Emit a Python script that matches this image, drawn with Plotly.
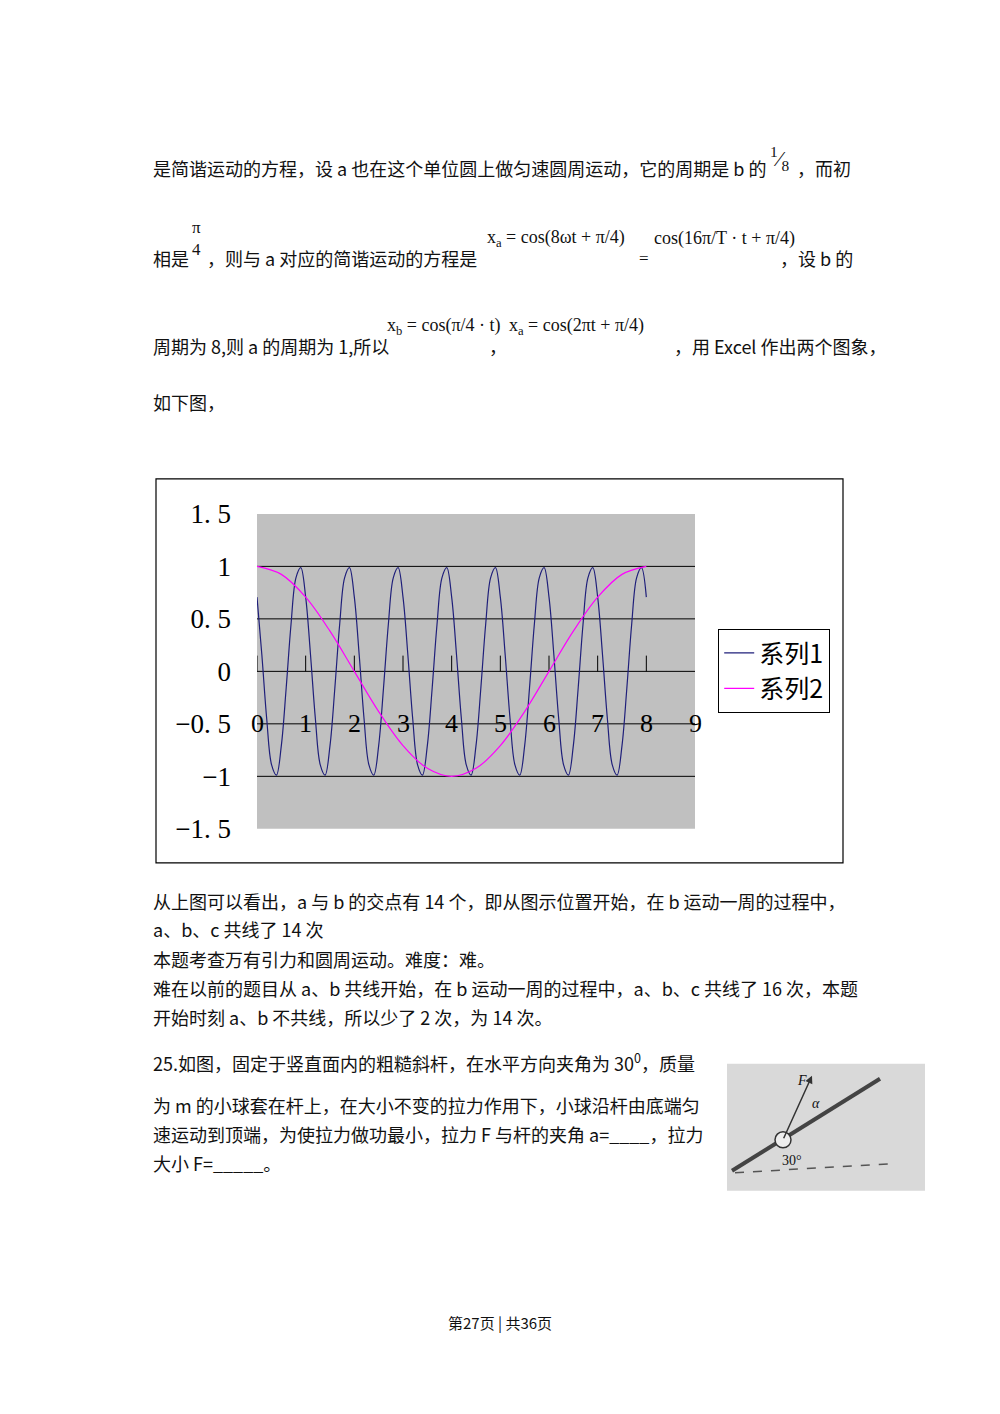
import plotly.graph_objects as go

t1 = [round(i*0.1, 1) for i in range(81)]
s1 = [0.707,0.156,-0.454,-0.891,-0.988,-0.707,-0.156,0.454,0.891,0.988,
      0.707,0.156,-0.454,-0.891,-0.988,-0.707,-0.156,0.454,0.891,0.988,
      0.707,0.156,-0.454,-0.891,-0.988,-0.707,-0.156,0.454,0.891,0.988,
      0.707,0.156,-0.454,-0.891,-0.988,-0.707,-0.156,0.454,0.891,0.988,
      0.707,0.156,-0.454,-0.891,-0.988,-0.707,-0.156,0.454,0.891,0.988,
      0.707,0.156,-0.454,-0.891,-0.988,-0.707,-0.156,0.454,0.891,0.988,
      0.707,0.156,-0.454,-0.891,-0.988,-0.707,-0.156,0.454,0.891,0.988,
      0.707,0.156,-0.454,-0.891,-0.988,-0.707,-0.156,0.454,0.891,0.988,
      0.707]
t2 = [0,0.5,1,1.5,2,2.5,3,3.5,4,4.5,5,5.5,6,6.5,7,7.5,8]
s2 = [1,0.924,0.707,0.383,0,-0.383,-0.707,-0.924,-1,-0.924,-0.707,-0.383,0,0.383,0.707,0.924,1]
x_labels = ["0","1","2","3","4","5","6","7","8","9"]
y_ticks = [-1.5,-1,-0.5,0,0.5,1,1.5]
y_text = ["−1. 5","−1","−0. 5","0","0. 5","1","1. 5"]
grid_vals = [-1,-0.5,0,0.5,1]

A, B = 0.979, 22.0
def py(p): return 1 - ((p - B) / A) / 1414
def px(p): return (p - 8) / 1000

fig = go.Figure()
fig.add_trace(go.Scatter(x=t1, y=s1, mode="lines", name="系列1", line=dict(color="#1f1f7a", width=1.2, shape="spline")))
fig.add_trace(go.Scatter(x=t2, y=s2, mode="lines", name="系列2", line=dict(color="#ff00ff", width=1.2, shape="spline")))

serif = "Liberation Serif, DejaVu Serif, serif"
cjk = "Noto Sans CJK SC"
shapes = [dict(type="rect", xref="paper", yref="paper", x0=px(156), x1=px(843), y0=py(862), y1=py(478), line=dict(color="black", width=1.2)),
          dict(type="rect", xref="x domain", yref="y domain", x0=0, x1=1, y0=0, y1=1, fillcolor="#c0c0c0", line=dict(width=0), layer="below")]
for g in grid_vals:
    shapes.append(dict(type="line", xref="x domain", yref="y", x0=0, x1=1, y0=g, y1=g, line=dict(color="black", width=1), layer="below"))
for i in range(9):
    shapes.append(dict(type="line", xref="x", yref="y", x0=i, x1=i, y0=0, y1=0.15, line=dict(color="black", width=1), layer="below"))

ann = []
for i, l in enumerate(x_labels):
    ann.append(dict(x=i, y=-0.5, xref="x", yref="y", text=l, showarrow=False, font=dict(family=serif, size=26, color="black")))

def T(x, y, s, size=18, anchor="left", fam=cjk):
    ann.append(dict(x=px(x), y=py(y), xref="paper", yref="paper", text=s, showarrow=False, xanchor=anchor, yanchor="middle", font=dict(family=fam, size=size, color="#111")))

T(151,167,"是简谐运动的方程，设 a 也在这个单位圆上做匀速圆周运动，它的周期是 b 的")
T(768,158,"<sup>1</sup>⁄<sub>8</sub>",size=22,fam=serif)
T(795,167,"，而初")
T(151,257,"相是"); T(190,238,"π<br>4",size=17,fam=serif); T(205,257,"，则与 a 对应的简谐运动的方程是")
T(485,238,"x<sub>a</sub> = cos(8ωt + π/4)",size=18,fam=serif)
T(637,258,"=",size=17,fam=serif)
T(652,238,"cos(16π/T · t + π/4)",size=18,fam=serif)
T(778,257,"，设 b 的")
T(151,345,"周期为 8,则 a 的周期为 1,所以")
T(385,326,"x<sub>b</sub> = cos(π/4 · t)",size=18,fam=serif)
T(487,345,"，")
T(507,326,"x<sub>a</sub> = cos(2πt + π/4)",size=18,fam=serif)
T(672,345,"，用 Excel 作出两个图象，")
T(151,401,"如下图，")
T(151,900,"从上图可以看出，a 与 b 的交点有 14 个，即从图示位置开始，在 b 运动一周的过程中，")
T(151,928,"a、b、c 共线了 14 次")
T(151,958,"本题考查万有引力和圆周运动。难度：难。")
T(151,987,"难在以前的题目从 a、b 共线开始，在 b 运动一周的过程中，a、b、c 共线了 16 次，本题")
T(151,1016,"开始时刻 a、b 不共线，所以少了 2 次，为 14 次。")
T(151,1061,"25.如图，固定于竖直面内的粗糙斜杆，在水平方向夹角为 30<sup>0</sup>，质量")
T(151,1104,"为 m 的小球套在杆上，在大小不变的拉力作用下，小球沿杆由底端匀")
T(151,1133,"速运动到顶端，为使拉力做功最小，拉力 F 与杆的夹角 a=____，拉力")
T(151,1162,"大小 F=_____。")
T(500,1322,"第27页 | 共36页",size=15,anchor="center")

# small figure
shapes.append(dict(type="rect", xref="paper", yref="paper", x0=px(727), x1=px(925), y0=py(1190), y1=py(1063), fillcolor="#d9d9d9", line=dict(width=0)))
shapes.append(dict(type="line", xref="paper", yref="paper", x0=px(732), x1=px(880), y0=py(1170), y1=py(1078), line=dict(color="#444", width=4)))
shapes.append(dict(type="line", xref="paper", yref="paper", x0=px(735), x1=px(890), y0=py(1172), y1=py(1163), line=dict(color="#555", width=1.5, dash="dash")))
shapes.append(dict(type="circle", xref="paper", yref="paper", x0=px(775), x1=px(791), y0=py(1147), y1=py(1131), fillcolor="#eee", line=dict(color="#333", width=1.5)))
ann.append(dict(x=px(812), y=py(1075), ax=-29, ay=64, xref="paper", yref="paper", text="", showarrow=True, arrowhead=2, arrowwidth=1.5, arrowcolor="#333"))
T(795,1080,"<i>F</i>",size=14,fam=serif); T(810,1103,"<i>α</i>",size=14,fam=serif); T(780,1160,"30°",size=14,fam=serif)

fig.update_layout(
    width=1000, height=1414, margin=dict(l=0, r=0, t=0, b=0),
    paper_bgcolor="white", plot_bgcolor="rgba(0,0,0,0)",
    xaxis=dict(domain=[px(257), px(695)], range=[0,9], showticklabels=False, showgrid=False, zeroline=False, showline=False),
    yaxis=dict(domain=[py(828), py(513)], range=[-1.5,1.5], tickvals=y_ticks, ticktext=y_text, showgrid=False, zeroline=False,
               ticks="", ticklabelstandoff=25, tickfont=dict(family=serif, size=27, color="black")),
    showlegend=True,
    legend=dict(x=px(718), y=py(628), xanchor="left", yanchor="top", bordercolor="black", borderwidth=1.2,
                bgcolor="white", font=dict(family=cjk, size=25, color="black")),
    shapes=shapes, annotations=ann,
)
fig.write_html("out.html")
